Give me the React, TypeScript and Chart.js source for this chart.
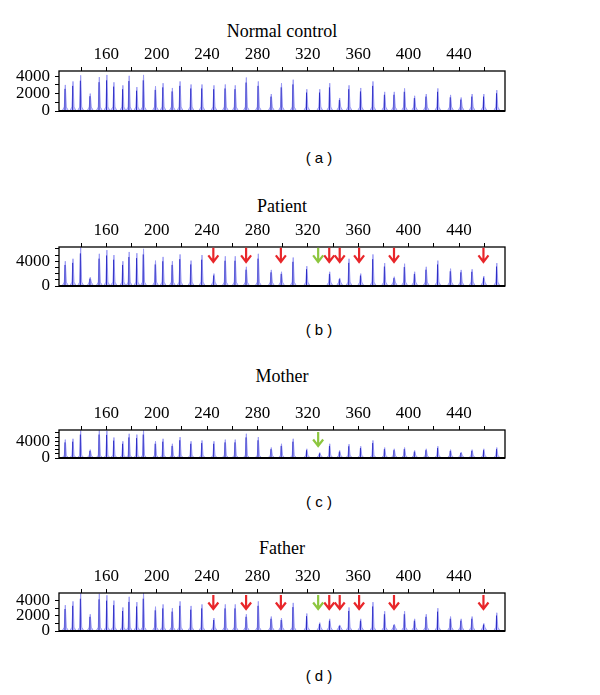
import React, { useEffect, useRef } from "react";
import { Chart, registerables } from "chart.js";

Chart.register(...registerables);

// Fragment sizes (nt) of the probe peaks
const peakSizes = [
  127.5, 133.6, 139.7, 147.3, 154.5, 160.5, 166.1, 173.2, 178.2, 184.3,
  189.6, 199.1, 205.1, 212.5, 218.6, 227.3, 236.0, 245.5, 254.5, 262.4,
  271.2, 280.7, 291.0, 299.1, 308.4, 319.2, 329.5, 337.4, 345.3, 352.7,
  362.0, 371.7, 381.0, 388.6, 396.8, 404.8, 414.0, 423.2, 433.3, 441.7,
  450.4, 459.7, 470.0,
];

const controlHeights = [
  3000, 3400, 4100, 2000, 3900, 4150, 3300, 2950, 4050, 2750,
  4150, 2850, 3200, 2650, 3400, 3050, 3050, 2950, 3050, 2950,
  3850, 3400, 1950, 3200, 3600, 2500, 2500, 3200, 1500, 2950,
  2650, 3400, 2200, 2200, 2600, 1750, 1950, 2600, 1850, 1550,
  1950, 1950, 2400,
];

const patientHeights = [
  4000, 4400, 6200, 1400, 5200, 5800, 5000, 4000, 5500, 5300,
  6000, 4100, 4700, 4000, 5100, 4100, 5000, 2000, 4800, 4800,
  3100, 5200, 2600, 2300, 4600, 3200, 0, 2300, 1300, 4400,
  2000, 5100, 3700, 1500, 3600, 2300, 3100, 4100, 2800, 2600,
  2700, 1600, 3700,
];

const motherHeights = [
  4400, 4600, 6600, 2000, 6600, 6500, 4900, 4000, 5800, 5600,
  6600, 4000, 4600, 3400, 5000, 4000, 4200, 4000, 4400, 4400,
  5800, 5000, 2500, 3400, 4600, 2200, 1300, 3400, 1800, 3300,
  2800, 4200, 2500, 2200, 2500, 1800, 2200, 2800, 2000, 1400,
  2000, 2200, 2500,
];

const fatherHeights = [
  3400, 3900, 5000, 2200, 4900, 4700, 4000, 3100, 4500, 3800,
  5000, 3200, 3500, 3000, 3900, 3300, 3500, 1700, 3500, 3500,
  2200, 3900, 1900, 1700, 3700, 2300, 1100, 1600, 800, 3100,
  1600, 3800, 2600, 900, 2600, 1600, 2200, 3000, 1900, 1600,
  1900, 1000, 2400,
];

const xTickValues = [140, 160, 180, 200, 220, 240, 260, 280, 300, 320, 340, 360, 380, 400, 420, 440, 460];
const xTickLabels = [160, 200, 240, 280, 320, 360, 400, 440];

const redArrowSizes = [245.0, 271.0, 298.6, 337.0, 345.3, 360.7, 388.4, 459.4];
const greenArrowSizes = [328.2];

const yTicksA = [0, 1000, 2000, 3000, 4000];
const yLabelsA = [0, 2000, 4000];
const yTicksB = [0, 1000, 2000, 3000, 4000, 5000, 6000];
const yLabelsB = [0, 4000];

const X_MIN = 122.5;
const X_MAX = 476.5;

type PanelCfg = {
  title: string;
  label: string;
  heights: number[];
  yMax: number;
  yTicks: number[];
  yLabels: number[];
  boxTop: number;
  boxBottom: number;
  titleY: number;
  labelY: number;
  red: number[];
  green: number[];
  arrowTip: number;
};

const panels: PanelCfg[] = [
  {
    title: "Normal control", label: "( a )", heights: controlHeights, yMax: 4600,
    yTicks: yTicksA, yLabels: yLabelsA, boxTop: 71, boxBottom: 111, titleY: 31, labelY: 159,
    red: [], green: [], arrowTip: 0,
  },
  {
    title: "Patient", label: "( b )", heights: patientHeights, yMax: 6300,
    yTicks: yTicksB, yLabels: yLabelsB, boxTop: 247, boxBottom: 286, titleY: 206, labelY: 331,
    red: redArrowSizes, green: greenArrowSizes, arrowTip: 3900,
  },
  {
    title: "Mother", label: "( c )", heights: motherHeights, yMax: 6700,
    yTicks: yTicksB, yLabels: yLabelsB, boxTop: 430, boxBottom: 458, titleY: 376, labelY: 503,
    red: [], green: greenArrowSizes, arrowTip: 2870,
  },
  {
    title: "Father", label: "( d )", heights: fatherHeights, yMax: 5000,
    yTicks: yTicksA, yLabels: yLabelsA, boxTop: 593, boxBottom: 631, titleY: 548, labelY: 677,
    red: redArrowSizes, green: greenArrowSizes, arrowTip: 2900,
  },
];

const LIGHT = "#9c9cf4";
const LIGHT_FILL = "rgba(176,176,250,0.75)";
const DARK = "#2c2cc4";
const SERIF = '"Liberation Serif", "Times New Roman", serif';

function buildProfile(heights: number[], hump: number) {
  const pts: { x: number; y: number }[] = [{ x: X_MIN, y: 0 }];
  peakSizes.forEach((s, i) => {
    const h = heights[i];
    if (!h) return;
    pts.push({ x: s - 2.6, y: 0 });
    pts.push({ x: s - 0.8, y: hump });
    pts.push({ x: s, y: h });
    pts.push({ x: s + 0.8, y: hump });
    pts.push({ x: s + 2.6, y: 0 });
  });
  pts.push({ x: X_MAX, y: 0 });
  return pts;
}

function buildSpikes(heights: number[]) {
  const pts: { x: number; y: number | null }[] = [];
  peakSizes.forEach((s, i) => {
    const h = heights[i];
    if (!h) return;
    pts.push({ x: s - 0.25, y: 0 });
    pts.push({ x: s - 0.25, y: h * 0.85 });
    pts.push({ x: s - 0.25, y: null });
  });
  return pts;
}

function Panel({ cfg }: { cfg: PanelCfg }) {
  const ref = useRef<HTMLCanvasElement | null>(null);
  const xAxisH = 30;
  const padBottom = 16;
  const canvasH = cfg.boxBottom - cfg.boxTop + xAxisH + padBottom;

  useEffect(() => {
    if (!ref.current) return;
    const framePlugin = {
      id: "frame",
      afterDatasetsDraw(chart: any) {
        const { ctx, chartArea } = chart;
        const { left, top, right, bottom } = chartArea;
        ctx.save();
        ctx.strokeStyle = "#000";
        ctx.lineWidth = 1.3;
        ctx.strokeRect(left, top, right - left, bottom - top);
        ctx.lineWidth = 2;
        ctx.beginPath();
        ctx.moveTo(left, bottom);
        ctx.lineTo(right, bottom);
        ctx.stroke();
        ctx.restore();
      },
    };
    const arrowPlugin = {
      id: "arrows",
      afterDatasetsDraw(chart: any) {
        const { ctx } = chart;
        const xs = chart.scales.x;
        const ys = chart.scales.y;
        const draw = (vals: number[], color: string) => {
          vals.forEach((v) => {
            const px = xs.getPixelForValue(v);
            const tip = ys.getPixelForValue(cfg.arrowTip);
            ctx.save();
            ctx.strokeStyle = color;
            ctx.lineWidth = 2.2;
            ctx.lineJoin = "miter";
            ctx.beginPath();
            ctx.moveTo(px, tip - 14);
            ctx.lineTo(px, tip);
            ctx.moveTo(px - 5, tip - 6.5);
            ctx.lineTo(px, tip);
            ctx.lineTo(px + 5, tip - 6.5);
            ctx.stroke();
            ctx.restore();
          });
        };
        draw(cfg.red, "#e8262a");
        draw(cfg.green, "#8dc63f");
      },
    };

    const chart = new Chart(ref.current, {
      type: "line",
      data: {
        datasets: [
          {
            data: buildSpikes(cfg.heights) as any,
            borderColor: DARK,
            borderWidth: 1,
            pointRadius: 0,
            spanGaps: false,
            tension: 0,
            fill: false,
          },
          {
            data: buildProfile(cfg.heights, cfg.yMax * 0.1) as any,
            borderColor: LIGHT,
            backgroundColor: LIGHT_FILL,
            fill: "origin",
            borderWidth: 1,
            pointRadius: 0,
            tension: 0,
          },
        ],
      },
      options: {
        animation: false,
        responsive: false,
        devicePixelRatio: 1,
        layout: { padding: { top: 0, left: 0, right: 95, bottom: padBottom } },
        plugins: { legend: { display: false }, tooltip: { enabled: false }, title: { display: false } },
        scales: {
          x: {
            type: "linear",
            position: "top",
            min: X_MIN,
            max: X_MAX,
            afterBuildTicks: (s: any) => {
              s.ticks = xTickValues.map((v) => ({ value: v }));
            },
            afterFit: (s: any) => {
              s.height = xAxisH;
            },
            ticks: {
              autoSkip: false,
              maxRotation: 0,
              padding: 2,
              color: "#000",
              font: { family: SERIF, size: 17 },
              callback: (v: any) => (xTickLabels.includes(Number(v)) ? String(v) : ""),
            },
            grid: { drawOnChartArea: false, drawTicks: true, tickLength: 4, color: "#000", lineWidth: 1 },
            border: { display: false },
          },
          y: {
            type: "linear",
            position: "left",
            min: 0,
            max: cfg.yMax,
            afterBuildTicks: (s: any) => {
              s.ticks = cfg.yTicks.map((v) => ({ value: v }));
            },
            afterFit: (s: any) => {
              s.width = 59;
            },
            ticks: {
              autoSkip: false,
              padding: 5,
              color: "#000",
              font: { family: SERIF, size: 17 },
              callback: (v: any) => (cfg.yLabels.includes(Number(v)) ? String(v) : ""),
            },
            grid: { drawOnChartArea: false, drawTicks: true, tickLength: 4, color: "#000", lineWidth: 1 },
            border: { display: false },
          },
        },
      },
      plugins: [framePlugin, arrowPlugin],
    } as any);
    return () => chart.destroy();
  }, []);

  return (
    <>
      <div
        style={{
          position: "absolute", left: 0, width: 564, top: cfg.titleY - 10, height: 20,
          lineHeight: "20px", fontSize: 18, fontFamily: SERIF, textAlign: "center", color: "#000",
          whiteSpace: "nowrap",
        }}
      >
        {cfg.title}
      </div>
      <canvas
        ref={ref}
        width={600}
        height={canvasH}
        style={{ position: "absolute", left: 0, top: cfg.boxTop - xAxisH, width: 600, height: canvasH }}
      />
      <div
        style={{
          position: "absolute", left: 219, width: 200, top: cfg.labelY - 10, height: 18,
          lineHeight: "18px", fontSize: 15, fontFamily: '"Liberation Sans", Arial, sans-serif',
          textAlign: "center", color: "#000", whiteSpace: "pre",
        }}
      >
        {cfg.label}
      </div>
    </>
  );
}

export default function App() {
  return (
    <div style={{ position: "absolute", left: 0, top: 0, width: 600, height: 695, background: "#fff", overflow: "hidden" }}>
      {panels.map((p) => (
        <Panel key={p.title} cfg={p} />
      ))}
    </div>
  );
}
